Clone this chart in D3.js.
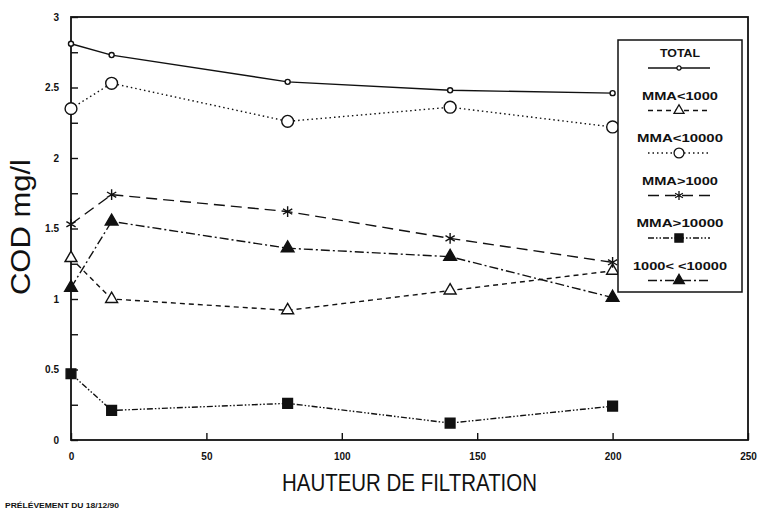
<!DOCTYPE html>
<html>
<head>
<meta charset="utf-8">
<script src="https://d3js.org/d3.v7.min.js"></script>
<style>
  body { margin: 0; background: #fff; }
  text { font-family: "Liberation Sans", Arial, sans-serif; fill: #111; }
</style>
</head>
<body>
<script>
// données
const hauteurs = [0, 15, 80, 140, 200];
const seriesNames = ["TOTAL", "MMA<1000", "MMA<10000", "MMA>1000", "MMA>10000", "1000< <10000"];
const total      = [2.81, 2.73, 2.54, 2.48, 2.46];
const mma1000    = [1.29, 1.00, 0.92, 1.06, 1.20];
const mma10000   = [2.35, 2.53, 2.26, 2.36, 2.22];
const mmaSup1000 = [1.53, 1.74, 1.62, 1.43, 1.26];
const mmaSup10000= [0.47, 0.21, 0.26, 0.12, 0.24];
const entre      = [1.08, 1.55, 1.36, 1.30, 1.01];
const xTicks = [0, 50, 100, 150, 200, 250];
const yTicks = [0, 0.5, 1, 1.5, 2, 2.5, 3];

const values = [total, mma1000, mma10000, mmaSup1000, mmaSup10000, entre];
const styles = [
  {dash: null, sym: d3.symbolCircle, size: 20, fill: "#fff", len: 40},
  {dash: "5,4", sym: d3.symbolTriangle, size: 62, fill: "#fff", len: 76},
  {dash: "1.5,3", sym: d3.symbolCircle, size: 110, fill: "#fff", len: 86},
  {dash: "11,6", sym: d3.symbolAsterisk, size: 80, fill: "none", len: 76},
  {dash: "6,2,1.5,2,1.5,2", sym: d3.symbolSquare, size: 95, fill: "#111", len: 87},
  {dash: "9,3,2,3", sym: d3.symbolTriangle, size: 70, fill: "#111", len: 94}
];

const W = 758, H = 513;
const svg = d3.select("body").append("svg").attr("width", W).attr("height", H);

const x = d3.scaleLinear().domain([0, 250]).range([71, 748]);
const y = d3.scaleLinear().domain([0, 3]).range([440, 17]);

// cadre
svg.append("rect")
  .attr("x", x(0)).attr("y", y(3))
  .attr("width", x(250) - x(0)).attr("height", y(0) - y(3))
  .attr("fill", "none").attr("stroke", "#111").attr("stroke-width", 1.8);

// axes (ticks vers l'intérieur)
const yAxis = svg.append("g").attr("transform", "translate(" + x(0) + ",0)")
  .call(d3.axisLeft(y).tickValues(d3.range(0, 3.01, 0.25)).tickSizeInner(-7).tickSizeOuter(0)
    .tickFormat(d => yTicks.includes(d) ? d3.format("")(d) : ""));
yAxis.select(".domain").remove();
yAxis.selectAll("line").attr("stroke", "#111").attr("stroke-width", 1.4);
yAxis.selectAll("text").attr("x", -12).attr("font-size", 10).attr("font-weight", "bold");

const xAxis = svg.append("g").attr("transform", "translate(0," + y(0) + ")")
  .call(d3.axisBottom(x).tickValues(xTicks).tickSizeInner(-7).tickSizeOuter(0));
xAxis.select(".domain").remove();
xAxis.selectAll("line").attr("stroke", "#111").attr("stroke-width", 1.4);
xAxis.selectAll("text").attr("y", 13).attr("font-size", 10).attr("font-weight", "bold");

// titres
svg.append("text")
  .attr("transform", "translate(30,227) rotate(-90)")
  .attr("text-anchor", "middle").attr("font-size", 28)
  .attr("textLength", 136).attr("lengthAdjust", "spacingAndGlyphs")
  .text("COD mg/l");
svg.append("text")
  .attr("x", 282).attr("y", 491).attr("font-size", 24)
  .attr("textLength", 255).attr("lengthAdjust", "spacingAndGlyphs")
  .text("HAUTEUR DE FILTRATION");
svg.append("text")
  .attr("x", 5).attr("y", 508).attr("font-size", 8).attr("font-weight", "bold")
  .attr("textLength", 114).attr("lengthAdjust", "spacingAndGlyphs")
  .text("PRÉLÉVEMENT DU 18/12/90");

// courbes
const line = d3.line().x((d, i) => x(hauteurs[i])).y(d => y(d));
values.forEach((vals, k) => {
  const st = styles[k];
  svg.append("path")
    .attr("d", line(vals))
    .attr("fill", "none").attr("stroke", "#111").attr("stroke-width", 1.4)
    .attr("stroke-dasharray", st.dash);
  svg.selectAll(null).data(vals).join("path")
    .attr("transform", (d, i) => "translate(" + x(hauteurs[i]) + "," + y(d) + ")")
    .attr("d", d3.symbol(st.sym, st.size))
    .attr("fill", st.fill).attr("stroke", "#111").attr("stroke-width", 1.4);
});

// légende
const leg = svg.append("g");
leg.append("rect").attr("x", 618).attr("y", 40).attr("width", 124).attr("height", 252)
  .attr("fill", "#fff").attr("stroke", "#111").attr("stroke-width", 1.5);
seriesNames.forEach((name, k) => {
  const st = styles[k];
  const ty = 57 + k * 42.5;
  leg.append("text").attr("x", 680 - st.len / 2).attr("y", ty)
    .attr("font-size", 11.5).attr("font-weight", "bold")
    .attr("textLength", st.len).attr("lengthAdjust", "spacingAndGlyphs").text(name);
  leg.append("line").attr("x1", 648).attr("x2", 710).attr("y1", ty + 11).attr("y2", ty + 11)
    .attr("stroke", "#111").attr("stroke-width", 1.3).attr("stroke-dasharray", st.dash);
  leg.append("path").attr("transform", "translate(679," + (ty + 11) + ")")
    .attr("d", d3.symbol(st.sym, st.size * 0.7))
    .attr("fill", st.fill).attr("stroke", "#111").attr("stroke-width", 1.3);
});
</script>
</body>
</html>
